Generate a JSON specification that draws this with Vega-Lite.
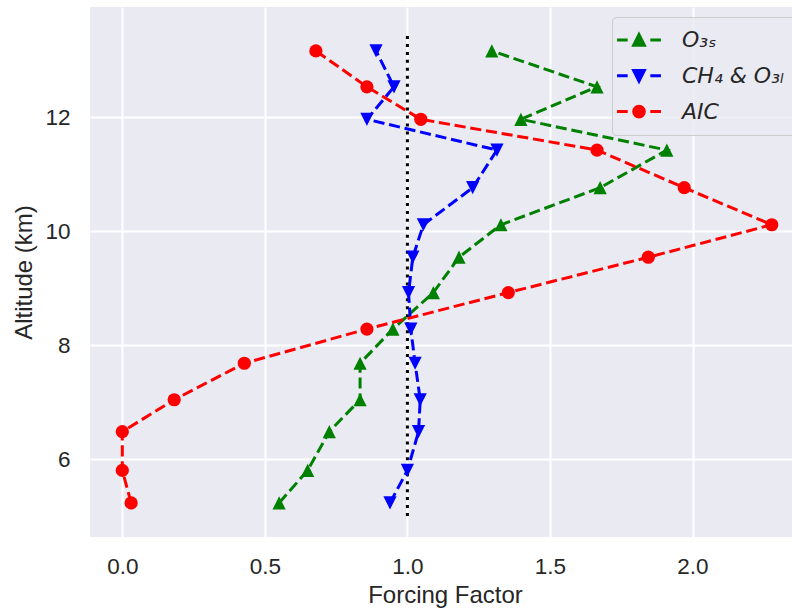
{
  "$schema": "https://vega.github.io/schema/vega-lite/v6.json",
  "width": 702,
  "height": 530,
  "autosize": {"type": "none"},
  "padding": {"left": 90, "top": 7, "right": 0, "bottom": 75},
  "background": "white",
  "config": {
    "view": {"fill": "#EAEAF2", "stroke": null},
    "font": "Liberation Sans",
    "axis": {
      "domain": false, "ticks": false, "grid": true, "gridColor": "white", "gridWidth": 2,
      "labelFont": "Liberation Sans", "labelFontSize": 22.5, "labelColor": "#262626",
      "titleFont": "Liberation Sans", "titleFontSize": 24, "titleColor": "#262626", "titleFontWeight": "normal"
    },
    "legend": {
      "orient": "none", "legendX": 522, "legendY": 10, "title": null,
      "padding": 12, "fillColor": "rgba(234,234,242,0.8)", "strokeColor": "#cccccc", "cornerRadius": 4,
      "labelFont": "DejaVu Sans", "labelFontStyle": "italic", "labelFontSize": 22, "labelColor": "#262626",
      "symbolSize": 177, "symbolStrokeWidth": 3, "symbolOpacity": 1, "rowPadding": 11.8, "labelOffset": 32, "symbolOffset": 4
    }
  },
  "data": {"values": [
    {"series": "O₃ₛ", "altitude": 5.23, "factor": 0.55},
    {"series": "O₃ₛ", "altitude": 5.80, "factor": 0.65},
    {"series": "O₃ₛ", "altitude": 6.48, "factor": 0.726},
    {"series": "O₃ₛ", "altitude": 7.04, "factor": 0.834},
    {"series": "O₃ₛ", "altitude": 7.68, "factor": 0.834},
    {"series": "O₃ₛ", "altitude": 8.28, "factor": 0.949},
    {"series": "O₃ₛ", "altitude": 8.92, "factor": 1.091},
    {"series": "O₃ₛ", "altitude": 9.54, "factor": 1.181},
    {"series": "O₃ₛ", "altitude": 10.11, "factor": 1.328},
    {"series": "O₃ₛ", "altitude": 10.76, "factor": 1.676},
    {"series": "O₃ₛ", "altitude": 11.42, "factor": 1.910},
    {"series": "O₃ₛ", "altitude": 11.96, "factor": 1.398},
    {"series": "O₃ₛ", "altitude": 12.53, "factor": 1.665},
    {"series": "O₃ₛ", "altitude": 13.16, "factor": 1.296},
    {"series": "CH₄ & O₃ₗ", "altitude": 5.23, "factor": 0.939},
    {"series": "CH₄ & O₃ₗ", "altitude": 5.80, "factor": 1.0},
    {"series": "CH₄ & O₃ₗ", "altitude": 6.48, "factor": 1.039},
    {"series": "CH₄ & O₃ₗ", "altitude": 7.04, "factor": 1.045},
    {"series": "CH₄ & O₃ₗ", "altitude": 7.68, "factor": 1.027},
    {"series": "CH₄ & O₃ₗ", "altitude": 8.28, "factor": 1.012},
    {"series": "CH₄ & O₃ₗ", "altitude": 8.92, "factor": 1.004},
    {"series": "CH₄ & O₃ₗ", "altitude": 9.54, "factor": 1.019},
    {"series": "CH₄ & O₃ₗ", "altitude": 10.11, "factor": 1.056},
    {"series": "CH₄ & O₃ₗ", "altitude": 10.76, "factor": 1.229},
    {"series": "CH₄ & O₃ₗ", "altitude": 11.42, "factor": 1.314},
    {"series": "CH₄ & O₃ₗ", "altitude": 11.96, "factor": 0.858},
    {"series": "CH₄ & O₃ₗ", "altitude": 12.53, "factor": 0.953},
    {"series": "CH₄ & O₃ₗ", "altitude": 13.16, "factor": 0.890},
    {"series": "AIC", "altitude": 5.23, "factor": 0.031},
    {"series": "AIC", "altitude": 5.80, "factor": 0.0},
    {"series": "AIC", "altitude": 6.48, "factor": 0.0},
    {"series": "AIC", "altitude": 7.04, "factor": 0.182},
    {"series": "AIC", "altitude": 7.68, "factor": 0.428},
    {"series": "AIC", "altitude": 8.28, "factor": 0.858},
    {"series": "AIC", "altitude": 8.92, "factor": 1.354},
    {"series": "AIC", "altitude": 9.54, "factor": 1.845},
    {"series": "AIC", "altitude": 10.11, "factor": 2.278},
    {"series": "AIC", "altitude": 10.76, "factor": 1.971},
    {"series": "AIC", "altitude": 11.42, "factor": 1.665},
    {"series": "AIC", "altitude": 11.96, "factor": 1.047},
    {"series": "AIC", "altitude": 12.53, "factor": 0.858},
    {"series": "AIC", "altitude": 13.16, "factor": 0.679}
  ]},
  "encoding": {
    "x": {
      "field": "factor", "type": "quantitative",
      "scale": {"domain": [-0.1133, 2.349], "nice": false, "zero": false},
      "axis": {"title": "Forcing Factor", "values": [0, 0.5, 1, 1.5, 2], "format": ".1f", "labelPadding": 18,
               "titleX": 355, "titleY": 65, "titleBaseline": "alphabetic"}
    },
    "y": {
      "field": "altitude", "type": "quantitative",
      "scale": {"domain": [4.632, 13.93], "nice": false, "zero": false},
      "axis": {"title": "Altitude (km)", "values": [6, 8, 10, 12], "labelPadding": 20,
               "titleX": -59, "titleY": 265, "titleBaseline": "alphabetic"}
    }
  },
  "layer": [
    {
      "data": {"values": [{"factor": 1, "altitude": 5.0}, {"factor": 1, "altitude": 13.5}]},
      "mark": {"type": "line", "color": "black", "strokeWidth": 3, "strokeDash": [3, 4.95], "strokeCap": "butt"},
      "encoding": {"order": {"field": "altitude", "type": "quantitative"}}
    },
    {
      "transform": [{"filter": "datum.series === 'O₃ₛ'"}],
      "mark": {"type": "line", "color": "green", "strokeWidth": 3, "strokeDash": [11.1, 4.8], "strokeCap": "butt"},
      "encoding": {"order": {"field": "altitude", "type": "quantitative"}}
    },
    {
      "transform": [{"filter": "datum.series === 'O₃ₛ'"}],
      "mark": {"type": "point", "filled": true, "color": "green", "opacity": 1, "size": 175, "shape": "M0,-1L1,1L-1,1Z"}
    },
    {
      "transform": [{"filter": "datum.series === 'CH₄ & O₃ₗ'"}],
      "mark": {"type": "line", "color": "blue", "strokeWidth": 3, "strokeDash": [11.1, 4.8], "strokeCap": "butt"},
      "encoding": {"order": {"field": "altitude", "type": "quantitative"}}
    },
    {
      "transform": [{"filter": "datum.series === 'CH₄ & O₃ₗ'"}],
      "mark": {"type": "point", "filled": true, "color": "blue", "opacity": 1, "size": 175, "shape": "M0,1L1,-1L-1,-1Z"}
    },
    {
      "transform": [{"filter": "datum.series === 'AIC'"}],
      "mark": {"type": "line", "color": "red", "strokeWidth": 3, "strokeDash": [11.1, 4.8], "strokeCap": "butt"},
      "encoding": {"order": {"field": "altitude", "type": "quantitative"}}
    },
    {
      "transform": [{"filter": "datum.series === 'AIC'"}],
      "mark": {"type": "point", "filled": true, "color": "red", "opacity": 1, "size": 175, "shape": "circle"}
    },
    {
      "mark": {"type": "point", "opacity": 0, "size": 1},
      "encoding": {
        "fill": {"field": "series", "type": "nominal",
          "scale": {"domain": ["O₃ₛ", "CH₄ & O₃ₗ", "AIC"], "range": ["green", "blue", "red"]}},
        "stroke": {"field": "series", "type": "nominal",
          "scale": {"domain": ["O₃ₛ", "CH₄ & O₃ₗ", "AIC"], "range": ["green", "blue", "red"]}},
        "shape": {"field": "series", "type": "nominal",
          "scale": {"domain": ["O₃ₛ", "CH₄ & O₃ₗ", "AIC"], "range": [
            "M-3.3,0H-1.7M1.7,0H3.3M0,-0.8L0.8,0.8L-0.8,0.8Z",
            "M-3.3,0H-1.7M1.7,0H3.3M0,0.8L0.8,-0.8L-0.8,-0.8Z",
            "M-3.3,0H-1.7M1.7,0H3.3M-0.8,0A0.8,0.8 0 1,0 0.8,0A0.8,0.8 0 1,0 -0.8,0Z"]}}
      }
    }
  ]
}
